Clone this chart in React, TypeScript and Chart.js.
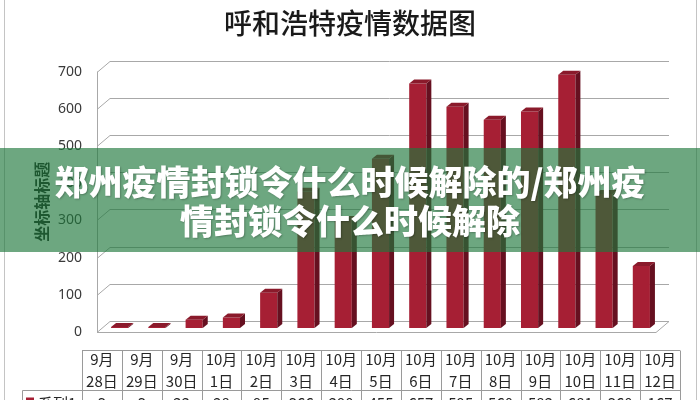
import React, { useEffect, useRef } from "react";
import { Chart, registerables } from "chart.js";

Chart.register(...registerables);

const chartTitle = "呼和浩特疫情数据图";
const yAxisTitle = "坐标轴标题";
const seriesName = "系列1";
const monthLabels = ["9月", "9月", "9月", "10月", "10月", "10月", "10月", "10月", "10月", "10月", "10月", "10月", "10月", "10月", "10月"];
const dayLabels = ["28日", "29日", "30日", "1日", "2日", "3日", "4日", "5日", "6日", "7日", "8日", "9日", "10日", "11日", "12日"];
const seriesValues = [3, 3, 22, 28, 95, 366, 290, 455, 657, 595, 560, 582, 681, 360, 167];
const yTicks = [0, 100, 200, 300, 400, 500, 600, 700];
const bannerLines = ["郑州疫情封锁令什么时候解除的/郑州疫", "情封锁令什么时候解除"];

const CJK = '"Noto Sans CJK SC", "Noto Sans", sans-serif';
const FRONT = "#A61F34";
const SIDE = "#661020";
const TOP = "#8A1A2B";
const GRID = "#a8a8a8";

const WALL_DX = 13;
const WALL_DY = 11;
const BAR_SHIFT_X = 4;
const BAR_SHIFT_Y = 4;
const BAR_DX = 5;
const BAR_DY = 4;

const excel3dPlugin = {
  id: "excel3d",
  beforeDatasetsDraw(chart: any) {
    const { ctx, chartArea: a, scales } = chart;
    const y = scales.y;
    ctx.save();
    ctx.strokeStyle = GRID;
    ctx.lineWidth = 1;
    yTicks.forEach((v) => {
      const py = Math.round(y.getPixelForValue(v)) + 0.5;
      ctx.beginPath();
      ctx.moveTo(a.left, py);
      ctx.lineTo(a.left + WALL_DX, py - WALL_DY);
      ctx.lineTo(a.right + WALL_DX, py - WALL_DY);
      ctx.stroke();
    });
    const topPx = y.getPixelForValue(yTicks[yTicks.length - 1]);
    ctx.beginPath();
    ctx.moveTo(a.left + 0.5, topPx);
    ctx.lineTo(a.left + 0.5, a.bottom);
    ctx.stroke();
    const by = Math.round(a.bottom) + 0.5;
    ctx.beginPath();
    ctx.moveTo(a.left, by);
    ctx.lineTo(a.right, by);
    ctx.lineTo(a.right + WALL_DX, by - WALL_DY);
    ctx.stroke();
    ctx.restore();
    ctx.save();
    ctx.translate(BAR_SHIFT_X, -BAR_SHIFT_Y);
  },
  afterDatasetsDraw(chart: any) {
    const ctx = chart.ctx;
    const meta = chart.getDatasetMeta(0);
    meta.data.forEach((bar: any) => {
      const { x, y, base, width } = bar.getProps(["x", "y", "base", "width"], true);
      const l = x - width / 2;
      const r = x + width / 2;
      ctx.fillStyle = SIDE;
      ctx.beginPath();
      ctx.moveTo(r, y);
      ctx.lineTo(r + BAR_DX, y - BAR_DY);
      ctx.lineTo(r + BAR_DX, base - BAR_DY);
      ctx.lineTo(r, base);
      ctx.closePath();
      ctx.fill();
      ctx.fillStyle = TOP;
      ctx.beginPath();
      ctx.moveTo(l, y);
      ctx.lineTo(l + BAR_DX, y - BAR_DY);
      ctx.lineTo(r + BAR_DX, y - BAR_DY);
      ctx.lineTo(r, y);
      ctx.closePath();
      ctx.fill();
    });
    ctx.restore();
  },
  afterDraw(chart: any) {
    const { ctx, chartArea: a } = chart;
    const n = monthLabels.length;
    const left = a.left - 15;
    const right = a.right + 24;
    const cw = (right - left) / n;
    const top = Math.round(a.bottom) + 18.5;
    const mid = top + 40;
    const bottom = chart.height + 20;
    const labelLeft = 22.5;
    ctx.save();
    ctx.strokeStyle = "#9a9a9a";
    ctx.lineWidth = 1;
    ctx.beginPath();
    ctx.moveTo(left, top);
    ctx.lineTo(right, top);
    ctx.moveTo(labelLeft, mid);
    ctx.lineTo(right, mid);
    ctx.moveTo(labelLeft, mid);
    ctx.lineTo(labelLeft, bottom);
    for (let i = 0; i <= n; i++) {
      const x = Math.round(left + i * cw) + 0.5;
      ctx.moveTo(x, top);
      ctx.lineTo(x, bottom);
    }
    ctx.stroke();

    ctx.fillStyle = "#262626";
    ctx.font = `15px ${CJK}`;
    ctx.textAlign = "center";
    ctx.textBaseline = "middle";
    for (let i = 0; i < n; i++) {
      const cx = left + (i + 0.5) * cw;
      ctx.fillText(monthLabels[i], cx, top + 9);
      ctx.fillText(dayLabels[i], cx, top + 31);
      ctx.fillText(String(seriesValues[i]), cx, mid + 13);
    }
    ctx.textAlign = "left";
    ctx.fillText(seriesName, 38, mid + 13);
    ctx.fillStyle = FRONT;
    ctx.fillRect(26, mid + 7, 8, 8);

    ctx.strokeStyle = "#c4c4c4";
    ctx.beginPath();
    ctx.moveTo(4.5, 0);
    ctx.lineTo(4.5, chart.height);
    ctx.moveTo(696.5, 0);
    ctx.lineTo(696.5, chart.height);
    ctx.stroke();
    ctx.restore();
  },
};

export default function App() {
  const canvasRef = useRef<HTMLCanvasElement | null>(null);

  useEffect(() => {
    if (!canvasRef.current) return;
    const chart = new Chart(canvasRef.current, {
      type: "bar",
      data: {
        labels: monthLabels.map((m, i) => m + dayLabels[i]),
        datasets: [
          {
            label: seriesName,
            data: seriesValues,
            backgroundColor: FRONT,
            borderWidth: 0,
            barPercentage: 0.46,
            categoryPercentage: 1,
            yAxisID: "y",
          },
        ],
      },
      options: {
        responsive: false,
        animation: false,
        devicePixelRatio: 1,
        layout: { padding: { left: 0, right: 0, top: 0, bottom: 0 } },
        plugins: {
          legend: { display: false },
          tooltip: { enabled: false },
          title: {
            display: true,
            text: chartTitle,
            color: "#1a1a1a",
            font: { family: CJK, size: 28, weight: "500" },
            padding: { top: 7, bottom: 31 },
          },
        },
        scales: {
          x: {
            type: "category",
            offset: true,
            grid: { display: false, drawTicks: false },
            border: { display: false },
            ticks: { display: false },
            afterFit: (s: any) => {
              s.height = 68;
            },
          },
          y: {
            min: 0,
            max: 700,
            ticks: {
              stepSize: 100,
              padding: 15,
              color: "#3a3a3a",
              font: { family: '"Noto Sans", sans-serif', size: 14 },
            },
            grid: { display: false, drawTicks: false },
            border: { display: false },
            title: {
              display: true,
              text: yAxisTitle,
              color: "#1a1a1a",
              font: { family: CJK, size: 16, weight: "bold" },
              padding: { top: 32, bottom: 0 },
            },
            afterFit: (s: any) => {
              s.width = 97;
            },
          },
          yRight: {
            position: "right",
            min: 0,
            max: 700,
            grid: { display: false, drawTicks: false },
            border: { display: false },
            ticks: { display: false },
            afterFit: (s: any) => {
              s.width = 44;
            },
          },
        },
      },
      plugins: [excel3dPlugin],
    } as any);
    return () => chart.destroy();
  }, []);

  return (
    <div style={{ position: "fixed", left: 0, top: 0, width: 700, height: 400, background: "#fff", overflow: "hidden" }}>
      <canvas ref={canvasRef} width={700} height={400} style={{ display: "block", width: 700, height: 400 }} />
      <div
        style={{
          position: "absolute",
          left: 0,
          top: 148,
          width: 700,
          height: 104,
          background: "rgba(30,120,60,0.65)",
          boxSizing: "border-box",
          paddingTop: 13,
          textAlign: "center",
          color: "#fff",
          fontFamily: CJK,
          fontWeight: 900,
          fontSize: 34,
          lineHeight: "39px",
          whiteSpace: "nowrap",
          textShadow: "1px 1px 2px rgba(0,0,0,0.25)",
        }}
      >
        {bannerLines.map((line, i) => (
          <div key={i}>{line}</div>
        ))}
      </div>
    </div>
  );
}
